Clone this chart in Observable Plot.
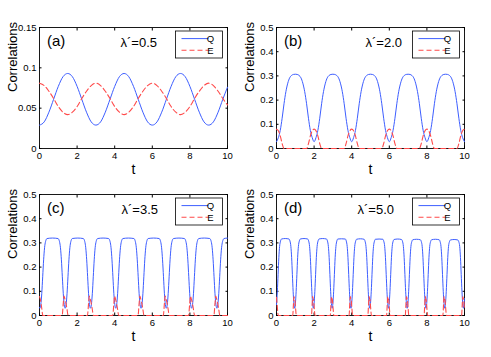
<!DOCTYPE html>
<html><head><meta charset="utf-8">
<script src="https://cdn.jsdelivr.net/npm/d3@7"></script>
<script src="https://cdn.jsdelivr.net/npm/@observablehq/plot@0.6"></script>
<style>
body{margin:0;background:#fff;}
#fig{position:relative;width:491px;height:357px;font-family:"Liberation Sans",Arial,sans-serif;}
#fig svg{position:absolute;overflow:visible;}
</style></head><body><div id="fig"></div>
<script>
// ---- data ----
const panelLetters = ["(a)", "(b)", "(c)", "(d)"];
const lambdaLabels = ["λ´=0.5", "λ´=2.0", "λ´=3.5", "λ´=5.0"];
const seriesNames = ["Q", "E"];
const xTicks = [0, 2, 4, 6, 8, 10];
const yTicksA = [0, 0.05, 0.1, 0.15];
const yTicksB = [0, 0.1, 0.2, 0.3, 0.4, 0.5];
const yDomainA = [0, 0.15];
const yDomainB = [0, 0.5];

// [t, value]
const Qa = [[0,.029],[.25,.033],[.5,.045],[.75,.061],[1,.077],[1.25,.089],[1.5,.093],[1.75,.089],[2,.077],[2.25,.061],[2.5,.045],[2.75,.033],
[3,.029],[3.25,.033],[3.5,.045],[3.75,.061],[4,.077],[4.25,.089],[4.5,.093],[4.75,.089],[5,.077],[5.25,.061],[5.5,.045],[5.75,.033],
[6,.029],[6.25,.033],[6.5,.045],[6.75,.061],[7,.077],[7.25,.089],[7.5,.093],[7.75,.089],[8,.077],[8.25,.061],[8.5,.045],[8.75,.033],
[9,.029],[9.25,.033],[9.5,.045],[9.75,.061],[10,.076]];
const Ea = [[0,.081],[.25,.078],[.5,.071],[.75,.062],[1,.052],[1.25,.045],[1.5,.042],[1.75,.045],[2,.052],[2.25,.062],[2.5,.071],[2.75,.078],
[3,.081],[3.25,.078],[3.5,.071],[3.75,.062],[4,.052],[4.25,.045],[4.5,.042],[4.75,.045],[5,.052],[5.25,.062],[5.5,.071],[5.75,.078],
[6,.081],[6.25,.078],[6.5,.071],[6.75,.062],[7,.052],[7.25,.045],[7.5,.042],[7.75,.045],[8,.052],[8.25,.062],[8.5,.071],[8.75,.078],
[9,.081],[9.25,.078],[9.5,.071],[9.75,.062],[10,.054]];

const Qb = [[0,.028],[.1,.045],[.2,.075],[.3,.125],[.4,.185],[.5,.235],[.6,.27],[.7,.292],[.8,.302],[.9,.306],[1,.307],[1.1,.306],[1.2,.302],[1.3,.292],[1.4,.27],[1.5,.235],[1.6,.185],[1.7,.125],[1.8,.075],[1.9,.045],
[2,.028],[2.1,.045],[2.2,.075],[2.3,.125],[2.4,.185],[2.5,.235],[2.6,.27],[2.7,.292],[2.8,.302],[2.9,.306],[3,.307],[3.1,.306],[3.2,.302],[3.3,.292],[3.4,.27],[3.5,.235],[3.6,.185],[3.7,.125],[3.8,.075],[3.9,.045],
[4,.028],[4.1,.045],[4.2,.075],[4.3,.125],[4.4,.185],[4.5,.235],[4.6,.27],[4.7,.292],[4.8,.302],[4.9,.306],[5,.307],[5.1,.306],[5.2,.302],[5.3,.292],[5.4,.27],[5.5,.235],[5.6,.185],[5.7,.125],[5.8,.075],[5.9,.045],
[6,.028],[6.1,.045],[6.2,.075],[6.3,.125],[6.4,.185],[6.5,.235],[6.6,.27],[6.7,.292],[6.8,.302],[6.9,.306],[7,.307],[7.1,.306],[7.2,.302],[7.3,.292],[7.4,.27],[7.5,.235],[7.6,.185],[7.7,.125],[7.8,.075],[7.9,.045],
[8,.028],[8.1,.045],[8.2,.075],[8.3,.125],[8.4,.185],[8.5,.235],[8.6,.27],[8.7,.292],[8.8,.302],[8.9,.306],[9,.307],[9.1,.306],[9.2,.302],[9.3,.292],[9.4,.27],[9.5,.235],[9.6,.185],[9.7,.125],[9.8,.075],[9.9,.045],
[10,.028]];
const Eb = [[0,.08],[.1,.073],[.2,.052],[.3,.02],[.4,0],[1.6,0],[1.7,.02],[1.8,.052],[1.9,.073],
[2,.08],[2.1,.073],[2.2,.052],[2.3,.02],[2.4,0],[3.6,0],[3.7,.02],[3.8,.052],[3.9,.073],
[4,.08],[4.1,.073],[4.2,.052],[4.3,.02],[4.4,0],[5.6,0],[5.7,.02],[5.8,.052],[5.9,.073],
[6,.08],[6.1,.073],[6.2,.052],[6.3,.02],[6.4,0],[7.6,0],[7.7,.02],[7.8,.052],[7.9,.073],
[8,.08],[8.1,.073],[8.2,.052],[8.3,.02],[8.4,0],[9.6,0],[9.7,.02],[9.8,.052],[9.9,.073],
[10,.08]];

const Qc = [[0,.034],[.02,.03],[.07,.045],[.12,.09],[.17,.16],[.22,.23],[.27,.28],[.32,.305],[.4,.318],[.6925,.32],
[.985,.318],[1.065,.305],[1.115,.28],[1.165,.23],[1.215,.16],[1.265,.09],[1.315,.045],[1.365,.03],[1.415,.045],[1.465,.09],[1.515,.16],[1.565,.23],[1.615,.28],[1.665,.305],[1.745,.318],[2.0375,.32],
[2.33,.318],[2.41,.305],[2.46,.28],[2.51,.23],[2.56,.16],[2.61,.09],[2.66,.045],[2.71,.03],[2.76,.045],[2.81,.09],[2.86,.16],[2.91,.23],[2.96,.28],[3.01,.305],[3.09,.318],[3.3825,.32],
[3.675,.318],[3.755,.305],[3.805,.28],[3.855,.23],[3.905,.16],[3.955,.09],[4.005,.045],[4.055,.03],[4.105,.045],[4.155,.09],[4.205,.16],[4.255,.23],[4.305,.28],[4.355,.305],[4.435,.318],[4.7275,.32],
[5.02,.318],[5.1,.305],[5.15,.28],[5.2,.23],[5.25,.16],[5.3,.09],[5.35,.045],[5.4,.03],[5.45,.045],[5.5,.09],[5.55,.16],[5.6,.23],[5.65,.28],[5.7,.305],[5.78,.318],[6.0725,.32],
[6.365,.318],[6.445,.305],[6.495,.28],[6.545,.23],[6.595,.16],[6.645,.09],[6.695,.045],[6.745,.03],[6.795,.045],[6.845,.09],[6.895,.16],[6.945,.23],[6.995,.28],[7.045,.305],[7.125,.318],[7.4175,.32],
[7.71,.318],[7.79,.305],[7.84,.28],[7.89,.23],[7.94,.16],[7.99,.09],[8.04,.045],[8.09,.03],[8.14,.045],[8.19,.09],[8.24,.16],[8.29,.23],[8.34,.28],[8.39,.305],[8.47,.318],[8.7625,.32],
[9.055,.318],[9.135,.305],[9.185,.28],[9.235,.23],[9.285,.16],[9.335,.09],[9.385,.045],[9.435,.03],[9.485,.045],[9.535,.09],[9.585,.16],[9.635,.23],[9.685,.28],[9.735,.305],[9.815,.318],[10,.32]];
const Ec = [[0,.078],[.05,.065],[.11,.035],[.18,0],
[1.205,0],[1.265,.05],[1.305,.08],[1.345,.07],[1.395,.055],[1.455,.03],[1.525,0],
[2.55,0],[2.61,.05],[2.65,.08],[2.69,.07],[2.74,.055],[2.8,.03],[2.87,0],
[3.895,0],[3.955,.05],[3.995,.08],[4.035,.07],[4.085,.055],[4.145,.03],[4.215,0],
[5.24,0],[5.3,.05],[5.34,.08],[5.38,.07],[5.43,.055],[5.49,.03],[5.56,0],
[6.585,0],[6.645,.05],[6.685,.08],[6.725,.07],[6.775,.055],[6.835,.03],[6.905,0],
[7.93,0],[7.99,.05],[8.03,.08],[8.07,.07],[8.12,.055],[8.18,.03],[8.25,0],
[9.275,0],[9.335,.05],[9.375,.08],[9.415,.07],[9.465,.055],[9.525,.03],[9.595,0],[10,0]];

const Qd = [[0,.045],[.045,.1],[.085,.17],[.125,.24],[.165,.285],[.215,.308],[.265,.316],[.465,.318],
[.665,.316],[.715,.308],[.765,.285],[.805,.24],[.845,.17],[.885,.1],[.925,.05],[.965,.03],[1.005,.05],[1.045,.1],[1.085,.17],[1.125,.24],[1.165,.285],[1.215,.308],[1.265,.316],[1.4625,.318],
[1.66,.316],[1.71,.308],[1.76,.285],[1.8,.24],[1.84,.17],[1.88,.1],[1.92,.05],[1.96,.03],[2,.05],[2.04,.1],[2.08,.17],[2.12,.24],[2.16,.285],[2.21,.308],[2.26,.316],[2.46,.318],
[2.66,.316],[2.71,.308],[2.76,.285],[2.8,.24],[2.84,.17],[2.88,.1],[2.92,.05],[2.96,.03],[3,.05],[3.04,.1],[3.08,.17],[3.12,.24],[3.16,.285],[3.21,.308],[3.26,.316],[3.46,.317],
[3.66,.316],[3.71,.308],[3.76,.285],[3.8,.24],[3.84,.17],[3.88,.1],[3.92,.05],[3.96,.03],[4,.05],[4.04,.1],[4.08,.17],[4.12,.24],[4.16,.285],[4.21,.307],[4.26,.315],[4.46,.317],
[4.66,.315],[4.71,.307],[4.76,.285],[4.8,.24],[4.84,.17],[4.88,.1],[4.92,.05],[4.96,.03],[5,.05],[5.04,.1],[5.08,.17],[5.12,.24],[5.16,.285],[5.21,.307],[5.26,.315],[5.4575,.316],
[5.655,.315],[5.705,.307],[5.755,.285],[5.795,.24],[5.835,.17],[5.875,.1],[5.915,.05],[5.955,.03],[5.995,.05],[6.035,.1],[6.075,.17],[6.115,.24],[6.155,.285],[6.205,.307],[6.255,.314],[6.4525,.316],
[6.65,.314],[6.7,.307],[6.75,.285],[6.79,.24],[6.83,.17],[6.87,.1],[6.91,.05],[6.95,.03],[6.99,.05],[7.03,.1],[7.07,.17],[7.11,.24],[7.15,.285],[7.2,.306],[7.25,.313],[7.45,.315],
[7.65,.313],[7.7,.306],[7.75,.285],[7.79,.24],[7.83,.17],[7.87,.1],[7.91,.05],[7.95,.03],[7.99,.05],[8.03,.1],[8.07,.17],[8.11,.24],[8.15,.285],[8.2,.306],[8.25,.313],[8.45,.315],
[8.65,.313],[8.7,.306],[8.75,.285],[8.79,.24],[8.83,.17],[8.87,.1],[8.91,.05],[8.95,.03],[8.99,.05],[9.03,.1],[9.07,.17],[9.11,.24],[9.15,.285],[9.2,.305],[9.25,.312],[9.4475,.314],
[9.645,.312],[9.695,.305],[9.745,.285],[9.785,.24],[9.825,.17],[9.865,.1],[9.905,.05],[9.945,.03],[9.985,.05],[10,.07]];
const Ed = [[0,.075],[.03,.05],[.06,.02],[.09,0],
[.865,0],[.9,.045],[.93,.078],[.955,.07],[.985,.06],[1.015,.03],[1.055,0],
[1.86,0],[1.895,.045],[1.925,.078],[1.95,.07],[1.98,.06],[2.01,.03],[2.05,0],
[2.86,0],[2.895,.045],[2.925,.078],[2.95,.07],[2.98,.06],[3.01,.03],[3.05,0],
[3.86,0],[3.895,.045],[3.925,.078],[3.95,.07],[3.98,.06],[4.01,.03],[4.05,0],
[4.86,0],[4.895,.045],[4.925,.078],[4.95,.07],[4.98,.06],[5.01,.03],[5.05,0],
[5.855,0],[5.89,.045],[5.92,.078],[5.945,.07],[5.975,.06],[6.005,.03],[6.045,0],
[6.85,0],[6.885,.045],[6.915,.078],[6.94,.07],[6.97,.06],[7,.03],[7.04,0],
[7.85,0],[7.885,.045],[7.915,.078],[7.94,.07],[7.97,.06],[8,.03],[8.04,0],
[8.85,0],[8.885,.045],[8.915,.078],[8.94,.07],[8.97,.06],[9,.03],[9.04,0],
[9.845,0],[9.88,.045],[9.91,.078],[9.935,.07],[9.965,.06],[9.995,.03],[10,.025]];

// ---- layout ----
const BLUE = "#3d5eff", RED = "#ff4a4a";
const FONT = "'Liberation Sans', Arial, Helvetica, sans-serif";
const panels = [
  {Q: Qa, E: Ea, yDomain: yDomainA, yTicks: yTicksA, left: 0,   top: 0,   width: 245, height: 178, ml: 39, mr: 18, mt: 27, mb: 30, lamDx: 81},
  {Q: Qb, E: Eb, yDomain: yDomainB, yTicks: yTicksB, left: 245, top: 0,   width: 246, height: 178, ml: 31, mr: 27, mt: 27, mb: 30, lamDx: 89},
  {Q: Qc, E: Ec, yDomain: yDomainB, yTicks: yTicksB, left: 0,   top: 178, width: 245, height: 179, ml: 39, mr: 18, mt: 16, mb: 42, lamDx: 82},
  {Q: Qd, E: Ed, yDomain: yDomainB, yTicks: yTicksB, left: 245, top: 178, width: 246, height: 179, ml: 31, mr: 27, mt: 16, mb: 42, lamDx: 81}
];

const fig = document.getElementById("fig");
panels.forEach((p, i) => {
  const svg = Plot.plot({
    width: p.width, height: p.height,
    marginLeft: p.ml, marginRight: p.mr, marginTop: p.mt, marginBottom: p.mb,
    style: {fontFamily: FONT, fontSize: "9.5px", background: "transparent", color: "#000"},
    x: {domain: [0, 10]},
    y: {domain: p.yDomain},
    marks: [
      Plot.frame({stroke: "#000", strokeWidth: 0.9}),
      Plot.axisX({ticks: xTicks, tickSize: -2.5, tickPadding: 6.5, label: null, tickFormat: d => String(d)}),
      Plot.axisX({anchor: "top", ticks: xTicks, tickSize: -2.5, tickFormat: () => "", label: null}),
      Plot.axisY({ticks: p.yTicks, tickSize: -2.5, tickPadding: 5.5, label: null, tickFormat: d => String(d)}),
      Plot.axisY({anchor: "right", ticks: p.yTicks, tickSize: -2.5, tickFormat: () => "", label: null}),
      Plot.line(p.Q, {x: d => d[0], y: d => d[1], stroke: BLUE, strokeWidth: 1, curve: "monotone-x"}),
      Plot.line(p.E, {x: d => d[0], y: d => d[1], stroke: RED, strokeWidth: 1.1, strokeDasharray: "5,3", curve: "monotone-x"}),
      Plot.text(["t"], {text: d => d, frameAnchor: "bottom", dy: 25.5, lineAnchor: "bottom", fontSize: 14}),
      Plot.text(["Correlations"], {text: d => d, frameAnchor: "left", dx: -27, dy: 4, rotate: -90, fontSize: 13}),
      Plot.text([panelLetters[i]], {text: d => d, frameAnchor: "top-left", dx: 7.5, dy: 8, textAnchor: "start", lineAnchor: "top", fontSize: 15}),
      Plot.text([lambdaLabels[i]], {text: d => d, frameAnchor: "top-left", dx: p.lamDx, dy: 10.5, textAnchor: "start", lineAnchor: "top", fontSize: 13})
    ]
  });
  svg.style.left = p.left + "px";
  svg.style.top = p.top + "px";
  // legend box
  const bw = 47, bh = 27;
  const x0 = p.width - p.mr - 4.5 - bw, y0 = p.mt + 4;
  const g = d3.select(svg).append("g").attr("font-family", FONT).attr("font-size", 9.5);
  g.append("rect").attr("x", x0).attr("y", y0).attr("width", bw).attr("height", bh)
    .attr("fill", "#fff").attr("stroke", "#000").attr("stroke-width", 0.8);
  const rows = [{name: seriesNames[0], color: BLUE, dash: null, dy: 7.6},
                {name: seriesNames[1], color: RED, dash: "5,3", dy: 19.3}];
  rows.forEach(r => {
    g.append("line").attr("x1", x0 + 6).attr("x2", x0 + 33).attr("y1", y0 + r.dy).attr("y2", y0 + r.dy)
      .attr("stroke", r.color).attr("stroke-width", r.dash ? 1.1 : 1).attr("stroke-dasharray", r.dash);
    g.append("text").attr("x", x0 + 35).attr("y", y0 + r.dy).attr("dy", "0.35em").attr("fill", "#000").text(r.name);
  });
  fig.appendChild(svg);
});
</script>
</body></html>
